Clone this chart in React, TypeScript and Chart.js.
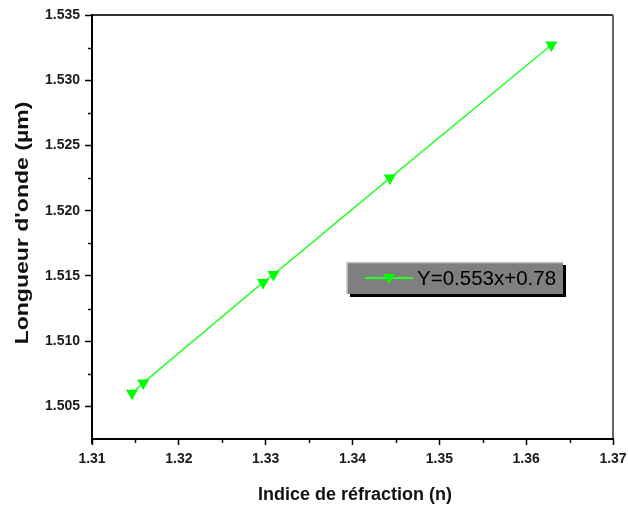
import React, { useEffect, useRef } from "react";
import { Chart, registerables } from "chart.js";

Chart.register(...registerables);

const xValues = [1.3146, 1.3159, 1.3297, 1.3309, 1.3443, 1.3629];
const yValues = [1.506, 1.5068, 1.5145, 1.5151, 1.5225, 1.5327];
const xTicks = [1.31, 1.32, 1.33, 1.34, 1.35, 1.36, 1.37];
const xMinor = [1.315, 1.325, 1.335, 1.345, 1.355, 1.365];
const yTicks = [1.505, 1.51, 1.515, 1.52, 1.525, 1.53, 1.535];
const yMinor = [1.5075, 1.5125, 1.5175, 1.5225, 1.5275, 1.5325];
const seriesLabel = "Y=0.553x+0.78";
const xTitle = "Indice de réfraction (n)";
const yTitle = "Longueur d'onde (µm)";

const GREEN = "rgb(0,255,0)";
const FONT = "'Liberation Sans', Arial, sans-serif";

const framePlugin = {
  id: "frame",
  afterDraw(chart: any) {
    const { ctx, chartArea: a } = chart;
    const xs = chart.scales.x;
    const ys = chart.scales.y;
    ctx.save();
    // minor ticks
    ctx.strokeStyle = "#111";
    ctx.lineWidth = 1.5;
    ctx.beginPath();
    xMinor.forEach((v) => {
      const px = Math.round(xs.getPixelForValue(v)) + 0.5;
      ctx.moveTo(px, a.bottom);
      ctx.lineTo(px, a.bottom + 4);
    });
    yMinor.forEach((v) => {
      const py = Math.round(ys.getPixelForValue(v)) + 0.5;
      ctx.moveTo(a.left, py);
      ctx.lineTo(a.left - 4, py);
    });
    ctx.stroke();
    // frame
    ctx.lineWidth = 2;
    ctx.strokeStyle = "#333";
    ctx.beginPath();
    ctx.moveTo(a.left, a.top);
    ctx.lineTo(a.right, a.top);
    ctx.stroke();
    ctx.strokeStyle = "#666";
    ctx.beginPath();
    ctx.moveTo(a.right, a.top);
    ctx.lineTo(a.right, a.bottom);
    ctx.stroke();
    ctx.strokeStyle = "#000";
    ctx.beginPath();
    ctx.moveTo(a.left, a.top - 1);
    ctx.lineTo(a.left, a.bottom + 5);
    ctx.moveTo(a.left - 1, a.bottom);
    ctx.lineTo(a.right + 1, a.bottom);
    ctx.stroke();

    // axis titles
    ctx.fillStyle = "#111";
    ctx.font = `bold 18px ${FONT}`;
    ctx.textAlign = "center";
    ctx.textBaseline = "middle";
    ctx.fillText(xTitle, a.left + 263, a.bottom + 56);
    ctx.save();
    ctx.translate(23, a.top + 208);
    ctx.rotate(-Math.PI / 2);
    ctx.scale(1.28, 1);
    ctx.fillText(yTitle, 0, 0);
    ctx.restore();

    // legend box
    const bx = a.left + 255;
    const by = a.top + 247;
    const bw = 216;
    const bh = 32;
    ctx.fillStyle = "#000";
    ctx.fillRect(bx + 3, by + 3, bw, bh);
    ctx.fillStyle = "#7f7f7f";
    ctx.fillRect(bx, by, bw, bh);
    ctx.strokeStyle = "#c8c8c8";
    ctx.lineWidth = 1.5;
    ctx.beginPath();
    ctx.moveTo(bx, by + bh);
    ctx.lineTo(bx, by + 0.5);
    ctx.lineTo(bx + bw, by + 0.5);
    ctx.stroke();
    const ly = by + 16;
    ctx.strokeStyle = "rgb(40,255,40)";
    ctx.lineWidth = 2;
    ctx.beginPath();
    ctx.moveTo(bx + 18, ly);
    ctx.lineTo(bx + 66, ly);
    ctx.stroke();
    const mx = bx + 42;
    ctx.fillStyle = GREEN;
    ctx.beginPath();
    ctx.moveTo(mx - 6, ly - 4);
    ctx.lineTo(mx + 6, ly - 4);
    ctx.lineTo(mx, ly + 6);
    ctx.closePath();
    ctx.fill();
    ctx.fillStyle = "#000";
    ctx.font = `20.5px ${FONT}`;
    ctx.textAlign = "left";
    ctx.fillText(seriesLabel, bx + 70, ly + 1);
    ctx.restore();
  },
};

export default function App() {
  const ref = useRef<HTMLCanvasElement>(null);
  useEffect(() => {
    if (!ref.current) return;
    const chart = new Chart(ref.current, {
      type: "scatter",
      data: {
        datasets: [
          {
            label: seriesLabel,
            data: xValues.map((x, i) => ({ x, y: yValues[i] })),
            showLine: true,
            borderColor: "rgb(40,255,40)",
            borderWidth: 1.5,
            pointStyle: "triangle",
            rotation: 180,
            pointRadius: 7,
            pointBackgroundColor: GREEN,
            pointBorderWidth: 0,
          },
        ],
      },
      options: {
        animation: false,
        responsive: false,
        devicePixelRatio: 1,
        layout: { padding: { left: 0, top: 15, right: 15, bottom: 0 } },
        plugins: { legend: { display: false }, tooltip: { enabled: false } },
        scales: {
          x: {
            type: "linear",
            min: 1.31,
            max: 1.37,
            afterBuildTicks: (s: any) => {
              s.ticks = xTicks.map((v) => ({ value: v }));
            },
            afterFit: (s: any) => {
              s.height = 67;
              s.paddingLeft = 0;
              s.paddingRight = 0;
            },
            border: { display: false },
            grid: {
              drawOnChartArea: false,
              drawTicks: true,
              tickLength: 6,
              tickColor: "#000",
              tickWidth: 1.5,
            },
            ticks: {
              padding: 6,
              color: "#1a1a1a",
              font: { family: FONT, size: 14, weight: "bold" },
              callback: (v: any) => Number(v).toFixed(2),
              maxRotation: 0,
            },
          },
          y: {
            type: "linear",
            min: 1.5025,
            max: 1.535,
            afterBuildTicks: (s: any) => {
              s.ticks = yTicks.map((v) => ({ value: v }));
            },
            afterFit: (s: any) => {
              s.width = 92;
              s.paddingTop = 0;
              s.paddingBottom = 0;
            },
            border: { display: false },
            grid: {
              drawOnChartArea: false,
              drawTicks: true,
              tickLength: 7,
              tickColor: "#000",
              tickWidth: 1.5,
            },
            ticks: {
              padding: 5,
              color: "#1a1a1a",
              font: { family: FONT, size: 14, weight: "bold" },
              callback: (v: any) => Number(v).toFixed(3),
            },
          },
        },
      },
      plugins: [framePlugin],
    });
    return () => chart.destroy();
  }, []);
  return (
    <div style={{ position: "fixed", left: 0, top: 0, width: 628, height: 506, background: "#fff" }}>
      <canvas ref={ref} width={628} height={506} />
    </div>
  );
}
